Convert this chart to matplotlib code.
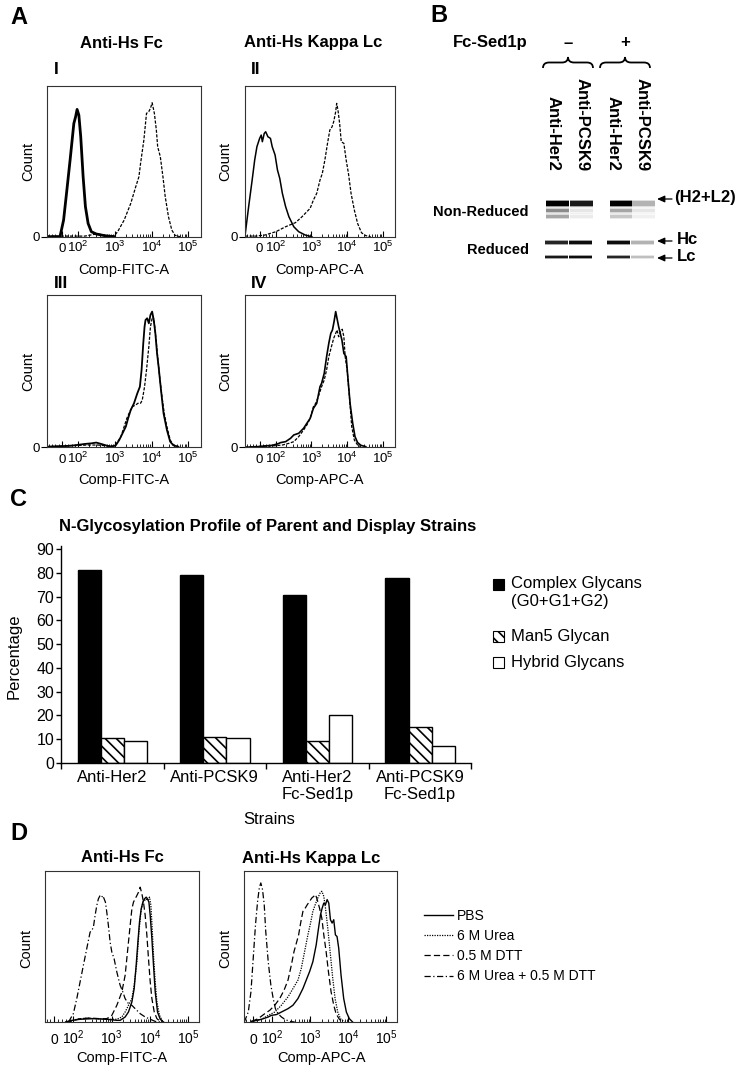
import matplotlib
matplotlib.use("Agg")
import matplotlib.pyplot as plt
import numpy as np
from matplotlib.patches import Rectangle, PathPatch
from matplotlib.path import Path
from matplotlib.ticker import FixedLocator

plt.rcParams["font.family"] = ["Liberation Sans", "DejaVu Sans"]
plt.rcParams["mathtext.fontset"] = "custom"
plt.rcParams["mathtext.rm"] = "Liberation Sans"
plt.rcParams["mathtext.it"] = "Liberation Sans:italic"
plt.rcParams["mathtext.bf"] = "Liberation Sans:bold"
plt.rcParams["hatch.linewidth"] = 1.2

# ---------------------------------------------------------------------------
# Panel A - flow histograms (x: fluorescence, y: % of full scale count)
# ---------------------------------------------------------------------------
a1_solid_x = [-93, -12, 10, 28, 50, 73, 84, 93, 104, 117, 136, 157, 186, 228, 310, 520, 964]
a1_solid_y = [0, 0, 11, 28.7, 50.8, 75, 79.5, 84.3, 80.5, 66.2, 39.7, 19.9, 8.8, 3.3, 1.8, 0.7, 0]
a1_dashed_x = [-93, 151, 310, 424, 640, 964, 1188, 1791, 2710, 3700, 4530, 5030, 6180, 7300,
               8410, 9350, 10400, 11970, 13550, 14720, 17380, 20500, 23660, 29040, 35800, 44000, 59800]
a1_dashed_y = [0.4, 0.4, 1.8, 1.5, 0.4, 0.6, 3.3, 11, 22, 33, 39.7, 48.6, 64, 81.7,
               82.8, 85, 88.7, 81.7, 70.6, 59.6, 53, 39.7, 26.5, 13.2, 4.4, 0.9, 0]

a2_solid_x = [-92, -69, -47, -31, -17, 0, 10, 17, 29, 38, 52, 68, 79, 97, 113, 131, 155, 191,
              236, 323, 443, 675, 1028]
a2_solid_y = [0.4, 19.9, 37.5, 50.8, 59.6, 65.1, 67.3, 62.9, 68.4, 69.5, 66.2, 65.1, 59.6, 54.1,
              44.2, 38.6, 28.7, 19.9, 13.2, 6.6, 3.3, 1.1, 0]
a2_dashed_x = [-92, -24, 33, 102, 191, 359, 547, 750, 925, 1140, 1410, 1740, 2020, 2380, 2820,
               3270, 3780, 4200, 4770, 5080, 5520, 6140, 6820, 8070, 9350, 10830, 12810, 15800,
               19500, 25100, 33000, 45200]
a2_dashed_y = [0.4, 0.4, 1.1, 3.3, 6.6, 9.3, 13.2, 16.6, 18.8, 24.3, 28.7, 37.5, 41.9, 50.8, 61.8,
               70.6, 72.8, 76.2, 82.8, 88.3, 83.9, 75.1, 62.9, 61.8, 50.8, 41.9, 28.7, 17.7,
               8.8, 2.6, 0.7, 0]

a3_solid_x = [-97, 33, 77, 151, 228, 310, 424, 640, 873, 1072, 1316, 1619, 1990, 2297, 2710, 3325,
              4093, 4815, 5355, 5956, 6457, 6865, 7610, 8450, 9350, 10400, 11500, 12740, 14150,
              15600, 18150, 21300, 26300, 32300, 39500, 54000]
a3_solid_y = [0.4, 0.9, 1.3, 2.2, 2.6, 3.1, 2.2, 0.9, 0.4, 1.5, 4.8, 9.2, 13.6, 19, 24.5, 28.9,
              35.4, 39.8, 50.8, 68.3, 79.2, 83.6, 84.7, 81.4, 86.9, 89.1, 83.6, 74.8, 61.7,
              53, 37.6, 22.3, 11.4, 3.7, 1.3, 0.4]
a3_dashed_x = [-97, 186, 345, 640, 873, 1072, 1462, 1791, 2118, 2443, 3013, 3700, 4266, 5030, 5600,
               6457, 7300, 8450, 9350, 10400, 11040, 11970, 13300, 14720, 16640, 19280, 22230,
               26300, 32300, 39500, 48600]
a3_dashed_y = [0.4, 1.5, 1.5, 0.9, 0.9, 2, 7, 13.6, 19, 22.3, 26.7, 27.8, 28.9, 28.9, 31.1,
               39.8, 50.8, 66.1, 79.2, 84.7, 85.8, 81.4, 70.5, 59.5, 46.4, 33.3, 22.3,
               13.6, 4.8, 1.5, 0.4]

a4_solid_x = [-92, -12, 33, 79, 113, 139, 191, 262, 323, 443, 608, 750, 925, 1140, 1410, 1740, 1930,
              2285, 2660, 3065, 3480, 3870, 4295, 4770, 5300, 5770, 6400, 7110, 8070, 9350, 10380,
              12020, 14220, 16500, 19500, 24100, 33000]
a4_solid_y = [0, 0.4, 0.9, 1.3, 2.2, 3.1, 3.7, 5.9, 8.1, 9.2, 12.5, 15.8, 19, 25.6, 28.9, 39.8, 42,
              48.6, 59.5, 68.3, 74.8, 77, 82.5, 89.1, 83.6, 79.2, 74.8, 70.5, 61.7, 59.5, 46.4,
              28.9, 15.8, 7, 3.1, 1.3, 0.4]
a4_dashed_x = [-92, -58, 79, 155, 236, 323, 443, 608, 750, 925, 1140, 1322, 1565, 1930, 2285, 2660,
               3065, 3630, 4200, 4770, 5190, 5770, 6550, 7260, 8070, 8770, 9950, 11530, 13360,
               15800, 19500, 24100]
a4_dashed_y = [0, 0.4, 0.9, 1.5, 2.6, 3.7, 7, 11.4, 14.7, 19, 26.7, 28.9, 33.3, 39.8, 44.2, 50.8,
               59.5, 66.1, 71.6, 74.8, 77, 72.6, 75.9, 77.5, 72.6, 59.5, 50.8, 33.3, 13.6,
               4.8, 1.5, 0.4]

# ---------------------------------------------------------------------------
# Panel B - capillary gel, band darkness per lane (0 = none, 1 = black)
# ---------------------------------------------------------------------------
gel_lanes = ["Anti-Her2", "Anti-PCSK9", "Anti-Her2", "Anti-PCSK9"]
gel_sed1p = ["\u2013", "+"]
nr_h2l2 = [1.0, 0.9, 1.0, 0.3]
nr_lower1 = [0.45, 0.1, 0.35, 0.1]
nr_lower2 = [0.35, 0.08, 0.22, 0.06]
nr_smear = [0.1, 0.06, 0.08, 0.04]
red_hc = [0.85, 0.95, 0.95, 0.3]
red_lc = [0.9, 0.95, 0.85, 0.25]

# ---------------------------------------------------------------------------
# Panel C - N-glycan composition (%)
# ---------------------------------------------------------------------------
strains = ["Anti-Her2", "Anti-PCSK9", "Anti-Her2\nFc-Sed1p", "Anti-PCSK9\nFc-Sed1p"]
complex_pct = [81.3, 79.3, 70.9, 78.1]
man5_pct = [10.3, 11.0, 9.1, 14.9]
hybrid_pct = [9.1, 10.3, 20.0, 7.0]
glycan_labels = ["Complex Glycans\n(G0+G1+G2)", "Man5 Glycan", "Hybrid Glycans"]

# ---------------------------------------------------------------------------
# Panel D - flow histograms after treatments
# ---------------------------------------------------------------------------
treatments = ["PBS", "6 M Urea", "0.5 M DTT", "6 M Urea + 0.5 M DTT"]

d1_pbs_x = [60, 83, 150, 334, 748, 1368, 1671, 2254, 2754, 3381, 3881, 4375, 4853, 5346, 5916, 6561,
            7227, 8000, 8650, 9420, 10190, 11270, 12420, 13770, 15810, 18620, 22700]
d1_pbs_y = [0, 0.9, 1.8, 2.2, 1.8, 1.1, 1.1, 3.3, 6.6, 13.2, 22, 37.4, 52.7, 65.9, 74.7, 79.1,
            81.3, 82.4, 81.3, 79.1, 70.3, 54.9, 37.4, 19.8, 6.6, 1.8, 0]
d1_urea_x = [60, 83, 123, 224, 410, 748, 1368, 1849, 2254, 2754, 3381, 3881, 4571, 5164, 5808, 6561,
             7227, 8000, 8650, 9770, 10620, 11480, 12420, 13770, 15240, 17820, 21880]
d1_urea_y = [0, 0.4, 1.8, 2.6, 2.2, 1.8, 1.8, 3.3, 6.6, 11, 15.4, 24.2, 39.6, 59.3, 72.5, 79.1,
             80.2, 81.3, 80.2, 82.4, 76.9, 61.5, 44, 26.4, 13.2, 4.4, 0]
d1_dtt_x = [60, 83, 150, 274, 500, 748, 1012, 1368, 1849, 2254, 2594, 2925, 3381, 3724, 4121, 4571,
            5035, 5572, 6180, 6792, 7534, 8340, 9180, 10190, 11270, 12970, 15240, 18620]
d1_dtt_y = [0, 0.4, 2.2, 2.6, 2.2, 2.2, 4.4, 11, 19.8, 30.8, 46.2, 59.3, 74.7, 79.1, 81.3, 83.5,
            85.7, 89, 84.6, 79.1, 70.3, 57.1, 41.8, 26.4, 15.4, 6.6, 2.2, 0.4]
d1_combo_x = [76, 83, 100, 123, 150, 183, 224, 274, 303, 334, 370, 410, 451, 500, 553, 589, 637, 689,
              748, 824, 914, 1012, 1161, 1368, 1671, 1963, 2254, 2754, 3381, 4121, 5572, 7534,
              10190, 13770, 18620]
d1_combo_y = [0, 1.8, 5.5, 15.4, 26.4, 37.4, 48.4, 59.3, 60.4, 62.6, 70.3, 76.9, 81.3, 83.5, 82.4,
              83.5, 81.3, 79.1, 72.5, 63.7, 52.7, 46.2, 41.8, 33, 24.2, 19.8, 15.4, 12.1, 11,
              8.8, 5.5, 3.3, 1.8, 0.4, 0]

d2_pbs_x = [-10, 43, 78, 95, 128, 173, 258, 349, 472, 637, 780, 953, 1164, 1425, 1640, 1849, 2046,
            2260, 2500, 2766, 3055, 3381, 3741, 4130, 4571, 5047, 5585, 6427, 7551, 8872, 10620, 12970]
d2_pbs_y = [0.4, 1.8, 3.3, 4.4, 4.9, 6.6, 8.8, 11.1, 15.5, 22.1, 27.7, 33.2, 39.8, 50.9, 61.9, 70.8,
            75.2, 78.5, 77.4, 80.8, 78.5, 67.5, 65.3, 67.5, 57.5, 56.4, 48.7, 31, 15.5, 6.6, 2.2, 0]
d2_urea_x = [-1, 43, 78, 116, 173, 258, 349, 472, 577, 705, 861, 1012, 1164, 1341, 1574, 1813, 2004,
             2260, 2500, 2877, 3381, 3890, 4477, 5260, 6180, 7852]
d2_urea_y = [0.4, 1.8, 4.4, 6.6, 11.1, 16.6, 22.1, 27.7, 35.4, 46.5, 57.5, 65.3, 73, 77.4, 81.9,
             85.2, 86.3, 83, 75.2, 61.9, 44.2, 28.8, 15.5, 6.6, 2.2, 0]
d2_dtt_x = [-10, 25, 60, 86, 116, 156, 203, 258, 316, 371, 427, 491, 554, 637, 734, 828, 953, 1096,
            1237, 1368, 1514, 1742, 2004, 2260, 2600, 2992, 3516, 4130, 4753, 5808, 7112]
d2_dtt_y = [0.4, 2.2, 5.5, 7.7, 11.1, 15.5, 21, 27.7, 37.6, 46.5, 52, 57.5, 65.3, 73, 75.2, 77.4,
            79.6, 81.9, 83, 84.1, 80.8, 75.2, 68.6, 57.5, 46.5, 33.2, 19.9, 11.1, 5.5, 1.8, 0]
d2_combo_x = [-48, -44.5, -27, -13, -1, 11, 22, 31, 39, 48, 57, 65, 78, 92, 105, 120, 141, 173, 211,
              285, 386]
d2_combo_y = [0, 1.1, 6.6, 19.9, 42, 64.2, 79.6, 88.5, 91.8, 87.4, 77.4, 59.7, 39.8, 24.3, 15.5,
              8.8, 5.5, 3.3, 1.8, 0.4, 0]

FLOW_TICKS = [0, 1e2, 1e3, 1e4, 1e5]
FLOW_TICK_LABELS = ["0", r"$10^2$", r"$10^3$", r"$10^4$", r"$10^5$"]
FLOW_MINOR = [-80, -60, -40, -20, 20, 40, 60, 80] + [k * 10 ** d for d in (2, 3, 4) for k in range(2, 10)]

# ---------------------------------------------------------------------------
# Figure / helpers (layout in pixels, origin top-left)
# ---------------------------------------------------------------------------
W, H = 743, 1074
fig = plt.figure(figsize=(W / 100, H / 100), dpi=100)

ov = fig.add_axes([0, 0, 1, 1])
ov.set_xlim(0, W)
ov.set_ylim(H, 0)
ov.axis("off")
ov.set_zorder(10)


def px_axes(x0, y0, x1, y1):
    return fig.add_axes([x0 / W, 1 - y1 / H, (x1 - x0) / W, (y1 - y0) / H])


def txt(x, y, s, size=10.5, bold=False, ha="center", va="center", **kw):
    ov.text(x, y, s, fontsize=size, fontweight="bold" if bold else "normal",
            ha=ha, va=va, **kw)


def flow_axes(rect, linscale, xlim, series, tick_size, tick_pad, zero_tick):
    ax = px_axes(*rect)
    ax.set_xscale("symlog", linthresh=100, linscale=linscale)
    lines = []
    for xs, ys, style in series:
        ln, = ax.plot(xs, ys, color="black", **style)
        lines.append(ln)
    ax.set_xlim(*xlim)
    ax.set_ylim(0, 100)
    ax.set_xticks(FLOW_TICKS)
    ax.set_xticklabels(FLOW_TICK_LABELS, fontsize=tick_size)
    plt.setp(ax.get_xticklabels(), va="baseline")
    ax.xaxis.set_minor_locator(FixedLocator(FLOW_MINOR))
    ax.tick_params(axis="x", which="major", direction="in", length=4, width=0.8, pad=tick_pad)
    ax.tick_params(axis="x", which="minor", direction="in", length=2.2, width=0.6)
    if zero_tick:
        ax.set_yticks([0])
        ax.set_yticklabels(["0"], fontsize=tick_size)
        ax.tick_params(axis="y", direction="out", length=4, width=0.8, pad=1)
    else:
        ax.set_yticks([])
    for sp in ax.spines.values():
        sp.set_linewidth(0.8)
        sp.set_color("#333333")
    return ax, lines


# ---------------------------------------------------------------------------
# Panel A
# ---------------------------------------------------------------------------
thick = dict(ls="-", lw=2.0)
thin = dict(ls="-", lw=1.1)
dash = dict(ls=(0, (2.5, 1.2)), lw=0.9)
A_LIM = (-90, 2.2e5)
A_LINSCALE = 0.4

flow_axes((47.3, 85.7, 200.7, 236.7), A_LINSCALE, A_LIM,
          [(a1_dashed_x, a1_dashed_y, dash), (a1_solid_x, a1_solid_y, thick)], 9.5, 11, True)
flow_axes((245.3, 85.7, 395.3, 236.7), A_LINSCALE, A_LIM,
          [(a2_dashed_x, a2_dashed_y, dash), (a2_solid_x, a2_solid_y, thin)], 9.5, 11, True)
flow_axes((47.3, 295, 200.7, 447.3), A_LINSCALE, A_LIM,
          [(a3_dashed_x, a3_dashed_y, dash), (a3_solid_x, a3_solid_y, dict(ls="-", lw=1.3))], 9.5, 11, True)
flow_axes((245.3, 295, 395.3, 447.3), A_LINSCALE, A_LIM,
          [(a4_dashed_x, a4_dashed_y, dash), (a4_solid_x, a4_solid_y, dict(ls="-", lw=1.2))], 9.5, 11, True)

txt(10, 17, "A", size=17, bold=True, ha="left")
txt(121, 43, "Anti-Hs Fc", size=12, bold=True)
txt(313, 43, "Anti-Hs Kappa Lc", size=12, bold=True)
txt(54, 70, "I", size=12.5, bold=True, ha="left")
txt(251, 70, "II", size=12.5, bold=True, ha="left")
txt(54, 283, "III", size=12.5, bold=True, ha="left")
txt(251, 283, "IV", size=12.5, bold=True, ha="left")
for cx, cy in [(28, 161), (225, 161), (28, 371), (225, 371)]:
    txt(cx, cy, "Count", size=10.5, rotation=90)
txt(124, 270, "Comp-FITC-A", size=10.5)
txt(320, 270, "Comp-APC-A", size=10.5)
txt(124, 480, "Comp-FITC-A", size=10.5)
txt(320, 480, "Comp-APC-A", size=10.5)

# ---------------------------------------------------------------------------
# Panel B
# ---------------------------------------------------------------------------
txt(430, 16, "B", size=17, bold=True, ha="left")
txt(453, 43, "Fc-Sed1p", size=12, bold=True, ha="left")
txt(568, 43, gel_sed1p[0], size=12, bold=True)
txt(625, 43, gel_sed1p[1], size=12, bold=True)


def brace(x0, x1, ytip, yend, r=6):
    xm = (x0 + x1) / 2
    ym = (ytip + yend) / 2
    verts = [(x0, yend), (x0, ym), (x0 + r, ym), (xm - r, ym), (xm, ym), (xm, ytip),
             (xm, ym), (xm + r, ym), (x1 - r, ym), (x1, ym), (x1, yend)]
    codes = [Path.MOVETO, Path.CURVE3, Path.CURVE3, Path.LINETO, Path.CURVE3, Path.CURVE3,
             Path.CURVE3, Path.CURVE3, Path.LINETO, Path.CURVE3, Path.CURVE3]
    ov.add_patch(PathPatch(Path(verts, codes), fc="none", ec="black", lw=1.3))


brace(543, 593, 57, 68)
brace(600, 650, 57, 68)

LABEL_X = [553, 582, 613, 642]
for lx, name in zip(LABEL_X, gel_lanes):
    txt(lx, 171, name, size=12, bold=True, rotation=270, va="bottom")

NR_X0 = [546, 570, 610, 632]
R_X0 = [545, 569, 607, 631]
LANE_W = 23


def band(x0, y0, h, dark, soft=True):
    g = 1 - dark
    ov.add_patch(Rectangle((x0, y0), LANE_W, h, fc=(g, g, g), ec="none"))
    if soft:
        e = 1 - dark * 0.4
        ov.add_patch(Rectangle((x0, y0 - 1), LANE_W, 1, fc=(e, e, e), ec="none"))
        ov.add_patch(Rectangle((x0, y0 + h), LANE_W, 1, fc=(e, e, e), ec="none"))


for i in range(4):
    band(NR_X0[i], 206, 13, nr_smear[i], soft=False)
    band(NR_X0[i], 209, 3, nr_lower1[i])
    band(NR_X0[i], 215, 3, nr_lower2[i])
    band(NR_X0[i], 201, 5, nr_h2l2[i])
    band(R_X0[i], 240.5, 3, red_hc[i])
    band(R_X0[i], 255.5, 2.5, red_lc[i])

txt(529, 212, "Non-Reduced", size=10.5, bold=True, ha="right")
txt(529, 250, "Reduced", size=10.5, bold=True, ha="right")
for ay, lab, tx in [(199, "(H2+L2)", 674), (241, "Hc", 677), (258, "Lc", 677)]:
    ov.annotate("", xy=(657, ay), xytext=(672, ay),
                arrowprops=dict(arrowstyle="-|>,head_length=0.45,head_width=0.2",
                                color="black", lw=0.9, shrinkA=0, shrinkB=0))
    txt(tx, ay - 1.5, lab, size=12, bold=True, ha="left")

# ---------------------------------------------------------------------------
# Panel C
# ---------------------------------------------------------------------------
txt(10, 499, "C", size=17, bold=True, ha="left")
txt(268, 526, "N-Glycosylation Profile of Parent and Display Strains", size=12, bold=True)

axc = px_axes(61, 546, 471.4, 762.7)
xc = np.arange(len(strains))
bw = 0.225
axc.bar(xc - bw, complex_pct, bw, color="black", edgecolor="black", lw=1)
axc.bar(xc, man5_pct, bw, color="white", edgecolor="black", hatch="\\\\\\", lw=1)
axc.bar(xc + bw, hybrid_pct, bw, color="white", edgecolor="black", lw=1)
axc.set_xlim(-0.5, 3.5)
axc.set_ylim(0, 91.4)
axc.set_yticks(range(0, 91, 10))
axc.tick_params(axis="y", direction="out", length=3.5, width=1, pad=1.5, labelsize=11.5)
axc.set_xticks(np.arange(-0.5, 4, 1))
axc.set_xticklabels([])
axc.set_xticks(xc, minor=True)
axc.set_xticklabels(strains, minor=True, fontsize=12, linespacing=1.2)
axc.tick_params(axis="x", which="major", direction="out", length=4, width=1)
axc.tick_params(axis="x", which="minor", length=0, pad=5)
for side in ("top", "right"):
    axc.spines[side].set_visible(False)
for side in ("left", "bottom"):
    axc.spines[side].set_linewidth(1)

txt(14, 656, "Percentage", size=12, rotation=90)
txt(269, 819, "Strains", size=12)

LEG_Y = [579, 631, 657]
ov.add_patch(Rectangle((493, LEG_Y[0]), 11, 11, fc="black", ec="black", lw=0.8))
ov.add_patch(Rectangle((493, LEG_Y[1]), 11, 11, fc="white", ec="black", lw=0.8, hatch="\\\\\\"))
ov.add_patch(Rectangle((493, LEG_Y[2]), 11, 11, fc="white", ec="black", lw=0.8))
txt(511, 576, glycan_labels[0], size=12, ha="left", va="top", linespacing=1.25)
txt(511, 637, glycan_labels[1], size=12, ha="left")
txt(511, 663, glycan_labels[2], size=12, ha="left")

# ---------------------------------------------------------------------------
# Panel D
# ---------------------------------------------------------------------------
D_LIM = (-48, 1.95e5)
d_styles = [dict(ls="-", lw=1.0), dict(ls=(0, (1, 1)), lw=0.9),
            dict(ls=(0, (5, 2.5)), lw=0.9), dict(ls=(0, (5, 2, 1, 2)), lw=0.9)]

axd1, d_lines = flow_axes((45, 870.5, 199.3, 1022), 0.45, D_LIM,
                          [(d1_pbs_x, d1_pbs_y, d_styles[0]), (d1_urea_x, d1_urea_y, d_styles[1]),
                           (d1_dtt_x, d1_dtt_y, d_styles[2]), (d1_combo_x, d1_combo_y, d_styles[3])],
                          10, 15.5, False)
flow_axes((244.3, 870.5, 397.3, 1022), 0.45, D_LIM,
          [(d2_pbs_x, d2_pbs_y, d_styles[0]), (d2_urea_x, d2_urea_y, d_styles[1]),
           (d2_dtt_x, d2_dtt_y, d_styles[2]), (d2_combo_x, d2_combo_y, d_styles[3])],
          10, 15.5, False)

axd1.legend(d_lines, treatments, loc="center left", bbox_to_anchor=(424, 946),
            bbox_transform=ov.transData, frameon=False, fontsize=10, handlelength=2.1,
            handletextpad=0.25, labelspacing=0.45, borderpad=0, borderaxespad=0)

txt(10, 833, "D", size=17, bold=True, ha="left")
txt(122, 858, "Anti-Hs Fc", size=12, bold=True)
txt(311, 858, "Anti-Hs Kappa Lc", size=12, bold=True)
txt(26, 948, "Count", size=10.5, rotation=90)
txt(225, 948, "Count", size=10.5, rotation=90)
txt(122, 1058, "Comp-FITC-A", size=10.5)
txt(321, 1058, "Comp-APC-A", size=10.5)

fig.savefig("out.png", dpi=100)
